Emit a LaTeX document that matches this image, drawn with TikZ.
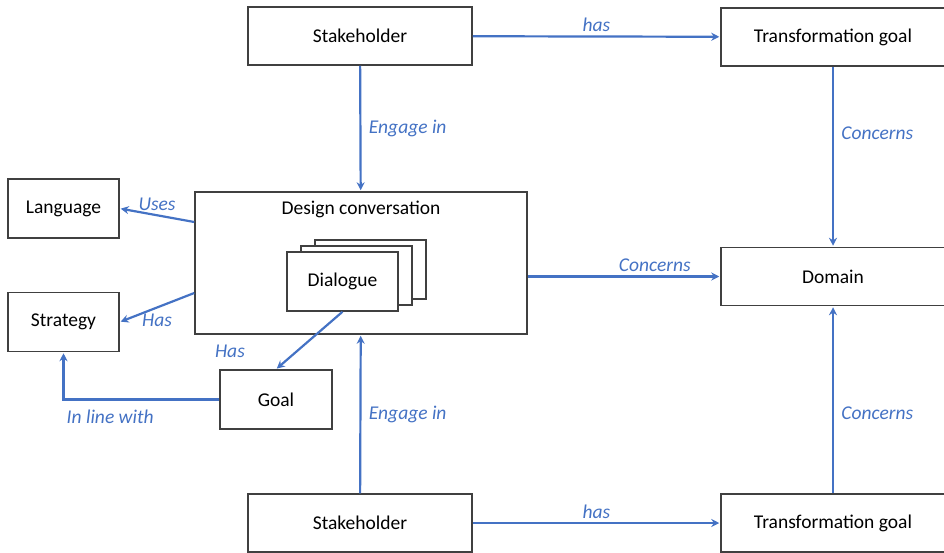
\documentclass[tikz,border=0pt]{standalone}
\usepackage{fontspec}
\setmainfont{Carlito}
\usepackage{xcolor}
\definecolor{linkblue}{HTML}{4472C4}
\usetikzlibrary{positioning,arrows.meta}

\begin{document}
\begin{tikzpicture}[x=1pt,y=-1pt,>={Stealth[length=8pt,width=8pt]},
    box/.style={rectangle,draw=black!75,line width=1.5pt,fill=white,inner sep=0pt,font=\fontsize{19.5}{23}\selectfont},
    wide box/.style={box,minimum width=224pt,minimum height=58pt},
    small box/.style={box,minimum width=111pt,minimum height=59pt},
    link/.style={draw=linkblue,line width=2.2pt,->,shorten >=1pt},
    lbl/.style={font=\fontsize{19.5}{23}\selectfont\itshape,text=linkblue}]

            \useasboundingbox (0,0) rectangle (944,552);

            \node[wide box] (sh1) at (360,36) {Stakeholder};
            \node[wide box] (tg1) at (833,37) {Transformation goal};
            \node[small box] (lang) at (63.5,208.5) {Language};
            \node[small box] (strat) at (63.5,322) {Strategy};
            \node[box,minimum width=332pt,minimum height=142pt,
                  label={[anchor=north,yshift=-6pt,font=\fontsize{19.5}{23}\selectfont]north:Design conversation}] (dc) at (361,263) {};
            \node[small box] (dlg3) at (370.5,269.5) {};
            \node[small box] (dlg2) at (356.5,275.5) {};
            \node[small box] (dlg) at (342.5,281.5) {Dialogue};
            \node[wide box] (dom) at (833,276.5) {Domain};
            \node[small box,minimum width=112pt] (goal) at (276,399.5) {Goal};
            \node[wide box] (sh2) at (360,523) {Stakeholder};
            \node[wide box] (tg2) at (833,523) {Transformation goal};

            \path[every edge/.style={link},every node/.style={lbl}]
                (sh1) edge node[above]{has} (tg1)
                (sh1) edge node[right=4pt]{Engage in} (dc)
                (tg1) edge[pos=0.37] node[right=4pt]{Concerns} (dom)
                (dc.east |- dom.west) edge[pos=0.66] node[above]{Concerns} (dom.west)
                ([yshift=41pt]dc.west) edge node[above]{Uses} (lang.east)
                ([yshift=-30pt]dc.west) edge node[below=2pt]{Has} (strat.east)
                (dlg.south) edge[pos=0.68] node[left=48pt]{Has} (goal.north)
                (sh2) edge[pos=0.5] node[right=4pt]{Engage in} (dc)
                (tg2) edge[pos=0.43] node[right=4pt]{Concerns} (dom)
                (sh2) edge node[above]{has} (tg2)
                ;
            \draw[link] (goal.west) -| node[lbl,pos=0.35,below=6pt]{In line with} (strat.south);
        \end{tikzpicture}
\end{document}
